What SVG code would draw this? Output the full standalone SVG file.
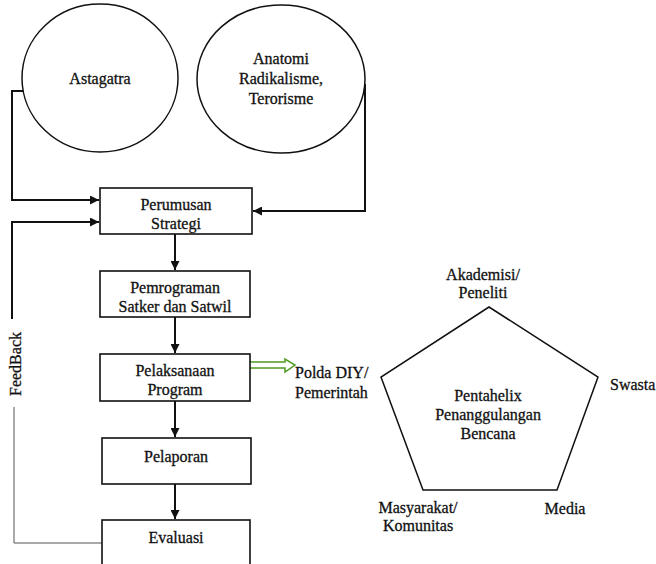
<svg xmlns="http://www.w3.org/2000/svg" width="656" height="564" viewBox="0 0 656 564">
<style>
text{font-family:'Liberation Serif','Times New Roman','DejaVu Serif',serif;font-size:16px;fill:#111;text-anchor:middle;stroke:#111;stroke-width:0.3}
.lt{text-anchor:start}
.box{fill:#fff;stroke:#111;stroke-width:1.6}
.circ{fill:#fff;stroke:#111;stroke-width:1.5}
.ln{fill:none;stroke:#111;stroke-width:2}
.thin{fill:none;stroke:#555;stroke-width:1}
</style>
<defs>
<marker id="ah" viewBox="0 0 10 10" refX="10" refY="5" markerWidth="4.5" markerHeight="4.5" orient="auto" markerUnits="strokeWidth">
<path d="M0,0 L10,5 L0,10 z" fill="#111"/>
</marker>
</defs>
<g id="connectors">
<polyline class="ln" points="24,91 12,91 12,200 99,200" marker-end="url(#ah)"/>
<polyline class="ln" points="358,85 365,85 365,211 253,211" marker-end="url(#ah)"/>
<polyline class="ln" points="12,319 12,222 99,222" marker-end="url(#ah)"/>
<polyline class="thin" points="14,407 14,543 102,543"/>
<line class="ln" x1="175" y1="234" x2="175" y2="270" marker-end="url(#ah)"/>
<line class="ln" x1="175" y1="317" x2="175" y2="353" marker-end="url(#ah)"/>
<line class="ln" x1="175" y1="401" x2="175" y2="437" marker-end="url(#ah)"/>
<line class="ln" x1="175" y1="484" x2="175" y2="519" marker-end="url(#ah)"/>
<path d="M243,362 L285,362 L285,359 L295,365 L285,372 L285,368 L243,368 Z" fill="#fff" stroke="#4f9a1f" stroke-width="1.5"/>
</g>
<g id="astagatra">
<ellipse class="circ" cx="100" cy="78" rx="78" ry="74"/>
<text x="100" y="84">Astagatra</text>
</g>
<g id="anatomi">
<ellipse class="circ" cx="281" cy="79" rx="84" ry="74"/>
<text x="281" y="64">Anatomi</text>
<text x="281" y="84">Radikalisme,</text>
<text x="281" y="104">Terorisme</text>
</g>
<g id="perumusan">
<rect class="box" x="100" y="188" width="152" height="46"/>
<text x="176" y="210">Perumusan</text>
<text x="176" y="229">Strategi</text>
</g>
<g id="pemrograman">
<rect class="box" x="100" y="271" width="150" height="46"/>
<text x="175" y="293">Pemrograman</text>
<text x="175" y="312">Satker dan Satwil</text>
</g>
<g id="pelaksanaan">
<rect class="box" x="100" y="354" width="150" height="47"/>
<text x="175" y="376">Pelaksanaan</text>
<text x="175" y="395">Program</text>
</g>
<g id="pelaporan">
<rect class="box" x="102" y="438" width="149" height="46"/>
<text x="176" y="462">Pelaporan</text>
</g>
<g id="evaluasi">
<rect class="box" x="102" y="520" width="148" height="60"/>
<text x="176" y="543">Evaluasi</text>
</g>
<g id="feedback">
<text transform="translate(21,364) rotate(-90)">FeedBack</text>
</g>
<g id="polda">
<text class="lt" x="295" y="378">Polda DIY/</text>
<text class="lt" x="295" y="398">Pemerintah</text>
</g>
<g id="pentahelix">
<polygon points="489,307 598,377 557,490 423,490 381,377" fill="none" stroke="#111" stroke-width="1.5"/>
<text x="488" y="401">Pentahelix</text>
<text x="488" y="420">Penanggulangan</text>
<text x="488" y="439">Bencana</text>
</g>
<g id="akademisi">
<text x="483" y="280">Akademisi/</text>
<text x="483" y="298">Peneliti</text>
</g>
<g id="swasta">
<text class="lt" x="610" y="390">Swasta</text>
</g>
<g id="masyarakat">
<text x="418" y="513">Masyarakat/</text>
<text x="418" y="531">Komunitas</text>
</g>
<g id="media">
<text x="565" y="514">Media</text>
</g>
</svg>
